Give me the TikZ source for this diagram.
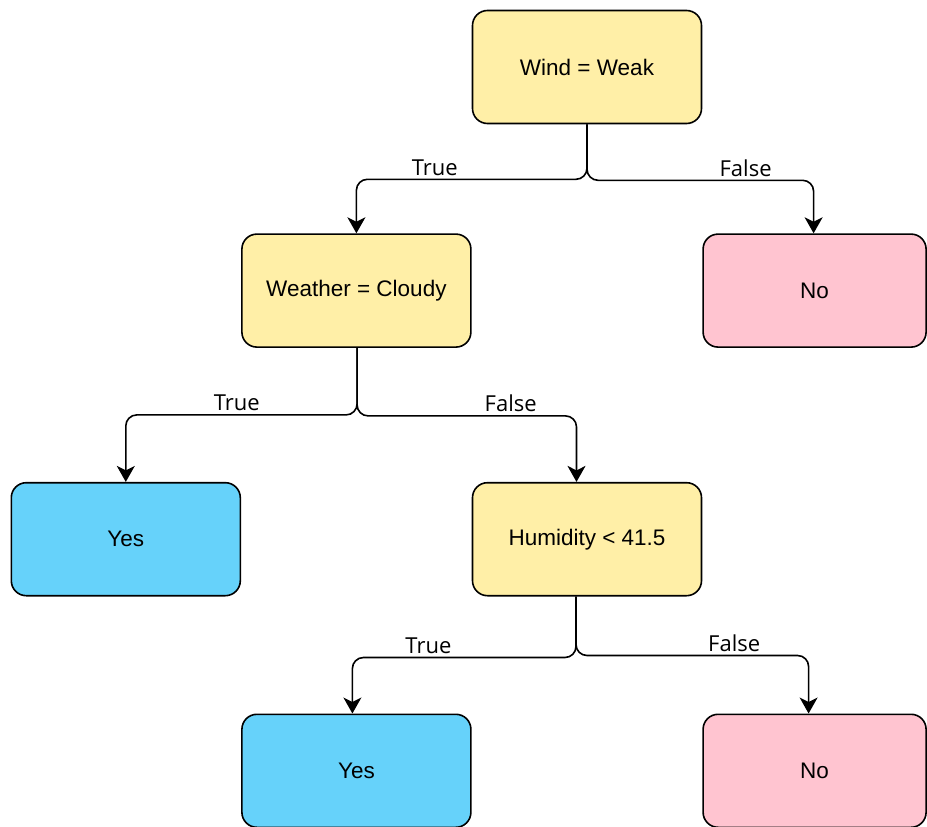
\documentclass[tikz,border=0pt]{standalone}
\usepackage{fontspec}
\setmainfont{Liberation Sans}
\newfontfamily\lblfont{Open Sans}
\usepackage{xcolor}
\usepackage{tikz}
\usetikzlibrary{positioning, arrows.meta}
\definecolor{boxyellow}{RGB}{255,239,167}
\definecolor{boxpink}{RGB}{255,196,208}
\definecolor{boxblue}{RGB}{102,210,250}

\begin{document}
\begin{tikzpicture}[
  nd/.style={draw, line width=1.6pt, rounded corners=15pt, minimum width=229pt, minimum height=113pt, font=\fontsize{22.5}{27}\selectfont},
  edge/.style={->, line width=1.6pt, rounded corners=11pt},
  lbl/.style={above, inner sep=4pt, outer sep=0pt, font=\lblfont\fontsize{22}{26}\selectfont},
  >={Stealth[length=16pt, width=18pt, inset=4.5pt]},
]
\useasboundingbox (0,0) rectangle (927pt,-827pt);
\node[nd, fill=boxyellow] (wind) at (587pt,-67pt) {Wind = Weak};
\node[nd, fill=boxyellow, below left=109pt and 0pt of wind] (weather) {Weather = Cloudy};
\node[nd, fill=boxpink, minimum width=223pt, below right=109pt and 0pt of wind] (no1) {No};
\node[nd, fill=boxblue, below left=134pt and 0pt of weather] (yes1) {Yes};
\node[nd, fill=boxyellow, below right=134pt and 0pt of weather] (hum) {Humidity < 41.5};
\node[nd, fill=boxblue, below left=117pt and 0pt of hum] (yes2) {Yes};
\node[nd, fill=boxpink, minimum width=223pt, below right=117pt and 0pt of hum] (no2) {No};
\draw[edge] (wind.south) -- ++(0,-55pt) -| node[lbl, pos=0.33]{True} (weather.north);
\draw[edge] (wind.south) -- ++(0,-56pt) -| node[lbl, pos=0.35]{False} ([xshift=-1pt]no1.north);
\draw[edge] ([xshift=0.7pt]weather.south) -- ++(0,-67pt) -| node[lbl, pos=0.26]{True} (yes1.north);
\draw[edge] ([xshift=0.7pt]weather.south) -- ++(0,-68pt) -| node[lbl, pos=0.35]{False} ([xshift=-10.5pt]hum.north);
\draw[edge] ([xshift=-11pt]hum.south) -- ++(0,-61pt) -| node[lbl, pos=0.33]{True} ([xshift=-4pt]yes2.north);
\draw[edge] ([xshift=-11pt]hum.south) -- ++(0,-59pt) -| node[lbl, pos=0.34]{False} ([xshift=-6pt]no2.north);
\end{tikzpicture}
\end{document}
